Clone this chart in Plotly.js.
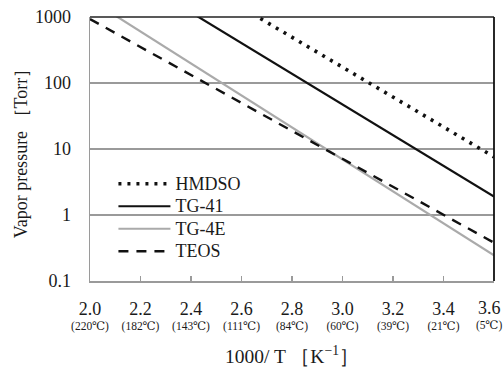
<!DOCTYPE html>
<html>
<head>
<meta charset="utf-8">
<script src="https://cdn.plot.ly/plotly-3.0.1.min.js"></script>
<style>html,body{margin:0;padding:0;background:#fff;}#chart{width:504px;height:367px;}</style>
</head>
<body>
<div id="chart"></div>
<script>
// 1000/T [K^-1] end points of each straight line
const invT = [2.0, 3.6];
// Vapor pressure [Torr] at those end points (lines clipped to 0.1–1000)
const hmdso = [32000, 7.6];
const tg41  = [10000, 1.9];
const tg4e  = [1840, 0.245];
const teos  = [930, 0.38];

const seriesNames = ["HMDSO", "TG-41", "TG-4E", "TEOS"];

const xTickVals = [2.0, 2.2, 2.4, 2.6, 2.8, 3.0, 3.2, 3.4, 3.6];
const xTickTemps = ["220℃", "182℃", "143℃", "111℃", "84℃", "60℃", "39℃", "21℃", "5℃"];
const yTickVals = [0.1, 1, 10, 100, 1000];
const yTickText = ["0.1", "1", "10", "100", "1000"];

const FONT = "Times New Roman, Liberation Serif, DejaVu Serif, serif";

const tickLabel = i =>
  "<span style='font-size:18px'>" + xTickVals[i].toFixed(1) + "</span><br>(" + xTickTemps[i] + ")";
const lastIdx = xTickVals.length - 1;
// the last label is right-aligned to the picture edge (as in the reference), so it is drawn as an annotation
const xTickText = xTickVals.map((v, i) => i === lastIdx ? "" : tickLabel(i));
const legendName = s => "<span style='font-size:18px'>" + s + "</span>";

const traces = [
  {x: invT, y: hmdso, name: legendName(seriesNames[0]), mode: "lines",
   line: {color: "#111", width: 3.6, dash: "3px,6px"}},
  {x: invT, y: tg41, name: legendName(seriesNames[1]), mode: "lines",
   line: {color: "#111", width: 2.2}},
  {x: invT, y: tg4e, name: legendName(seriesNames[2]), mode: "lines",
   line: {color: "#aaaaaa", width: 2.2}},
  {x: invT, y: teos, name: legendName(seriesNames[3]), mode: "lines",
   line: {color: "#111", width: 2.4, dash: "10px,8px"}}
];

const layout = {
  width: 504, height: 367,
  margin: {l: 90, r: 10, t: 17, b: 86},
  paper_bgcolor: "#fff", plot_bgcolor: "#fff",
  font: {family: FONT, size: 17, color: "#1a1a1a"},
  showlegend: true,
  legend: {
    x: 0.058, y: 0.43, xanchor: "left", yanchor: "top",
    bgcolor: "rgba(0,0,0,0)", borderwidth: 0,
    font: {family: FONT, size: 15, color: "#1a1a1a"},
    itemwidth: 52, tracegroupgap: 0
  },
  xaxis: {
    range: [2.0, 3.6], showgrid: false, zeroline: false,
    showline: true, linecolor: "#9a9a9a", linewidth: 1.5,
    ticks: "inside", ticklen: 5, tickcolor: "#9a9a9a", tickwidth: 1.2,
    tickvals: xTickVals, ticktext: xTickText,
    ticklabelstandoff: 19, ticklabeloverflow: "allow",
    tickfont: {family: FONT, size: 11.5, color: "#1a1a1a"},
    title: {text: "1000/ T ［K<sup>−1</sup>］", font: {family: FONT, size: 19.5, color: "#1a1a1a"}, standoff: 18}
  },
  yaxis: {
    type: "log", range: [-1, 3],
    showgrid: true, gridcolor: "#9a9a9a", gridwidth: 1.3,
    zeroline: false, showline: true, linecolor: "#9a9a9a", linewidth: 1.5,
    ticks: "", tickvals: yTickVals, ticktext: yTickText,
    ticklabelstandoff: 14,
    tickfont: {family: FONT, size: 18, color: "#1a1a1a"},
    title: {text: "Vapor pressure ［Torr］", font: {family: FONT, size: 18, color: "#1a1a1a"}, standoff: 2}
  },
  annotations: [
    {x: xTickVals[lastIdx], xref: "x", y: 0, yref: "paper",
     xanchor: "right", yanchor: "top", xshift: 9, yshift: -16,
     text: tickLabel(lastIdx), showarrow: false, align: "center", borderpad: 0,
     font: {family: FONT, size: 11.5, color: "#1a1a1a"}}
  ],
  shapes: [
    {type: "line", xref: "paper", yref: "paper", x0: 0, x1: 1, y0: 1, y1: 1,
     line: {color: "#222", width: 1.6}, layer: "above"},
    {type: "line", xref: "paper", yref: "paper", x0: 1, x1: 1, y0: 0, y1: 1,
     line: {color: "#111", width: 1.8}, layer: "above"},
    {type: "rect", xref: "paper", yref: "paper", x0: 0.022, x1: 0.47, y0: 0.072, y1: 0.413,
     fillcolor: "#fff", line: {width: 0}, layer: "between"}
  ]
};

Plotly.newPlot("chart", traces, layout, {staticPlot: true, displayModeBar: false});
</script>
</body>
</html>
